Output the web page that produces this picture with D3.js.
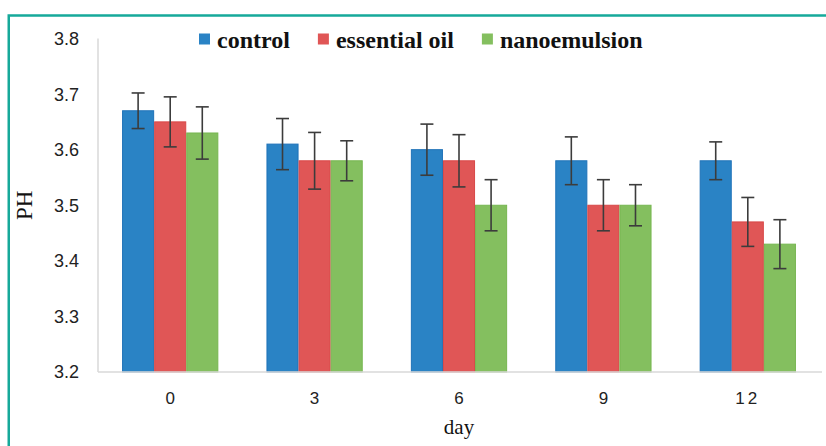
<!DOCTYPE html>
<html>
<head>
<meta charset="utf-8">
<script src="https://cdn.jsdelivr.net/npm/d3@7"></script>
<style>
  body { margin: 0; background: #fff; }
</style>
</head>
<body>
<script>
// chart values
let days = ['0', '3', '6', '9', '12'];
let series = ['control', 'essential oil', 'nanoemulsion'];
let control = [3.67, 3.61, 3.60, 3.58, 3.58];
let essentialOil = [3.65, 3.58, 3.58, 3.50, 3.47];
let nanoemulsion = [3.63, 3.58, 3.50, 3.50, 3.43];
let controlErr = [0.032, 0.046, 0.046, 0.043, 0.034];
let essentialOilErr = [0.045, 0.051, 0.047, 0.046, 0.044];
let nanoemulsionErr = [0.047, 0.036, 0.046, 0.037, 0.044];
let yTicks = [3.2, 3.3, 3.4, 3.5, 3.6, 3.7, 3.8];

let values = [control, essentialOil, nanoemulsion];
let errors = [controlErr, essentialOilErr, nanoemulsionErr];
let colors = ['#2a83c5', '#e05656', '#84bf5f'];
let strokes = ['#1f72b8', '#d84848', '#76b650'];

let serif = '"Liberation Serif", "Times New Roman", serif';
let sans = '"Liberation Sans", Arial, sans-serif';

let width = 826, height = 446;
let plotLeft = 98, plotRight = 820, plotTop = 38.5, plotBottom = 372;

let svg = d3.select('body').append('svg')
  .attr('width', width).attr('height', height);

// teal frame (only left and top edges are in view)
svg.append('rect')
  .attr('x', 8.75).attr('y', 15.5)
  .attr('width', 900).attr('height', 500)
  .attr('fill', 'none')
  .attr('stroke', '#16a99a')
  .attr('stroke-width', 2.5);

let x = d3.scaleBand().domain(days)
  .range([plotLeft, plotRight])
  .paddingInner(1 / 3).paddingOuter(1 / 6);

let xs = d3.scaleBand().domain(series)
  .range([0, x.bandwidth()]);

let y = d3.scaleLinear().domain([3.2, 3.8]).range([plotBottom, plotTop]);

// bars
let groups = svg.append('g').selectAll('g')
  .data(series)
  .join('g');

groups.selectAll('rect')
  .data((s, i) => days.map((d, j) => ({ s: s, i: i, d: d, v: values[i][j] })))
  .join('rect')
  .attr('x', d => x(d.d) + xs(d.s) + 0.5)
  .attr('y', d => y(d.v))
  .attr('width', xs.bandwidth() - 1)
  .attr('height', d => plotBottom - y(d.v))
  .attr('fill', d => colors[d.i])
  .attr('stroke', d => strokes[d.i])
  .attr('stroke-width', 1);

// axis lines
svg.append('line')
  .attr('x1', plotLeft).attr('x2', plotLeft)
  .attr('y1', plotTop).attr('y2', plotBottom)
  .attr('stroke', '#d9d9d9').attr('stroke-width', 1.5);
svg.append('line')
  .attr('x1', plotLeft).attr('x2', plotRight + 2)
  .attr('y1', plotBottom).attr('y2', plotBottom)
  .attr('stroke', '#d9d9d9').attr('stroke-width', 1.5);

// error bars
let cap = 6.5;
let eb = svg.append('g')
  .attr('stroke', '#3c3c3c')
  .attr('stroke-width', 1.6);
series.forEach((s, i) => {
  days.forEach((d, j) => {
    let cx = x(d) + xs(s) + xs.bandwidth() / 2;
    let y1 = y(values[i][j] + errors[i][j]);
    let y2 = y(values[i][j] - errors[i][j]);
    eb.append('line').attr('x1', cx).attr('x2', cx).attr('y1', y1).attr('y2', y2);
    eb.append('line').attr('x1', cx - cap).attr('x2', cx + cap).attr('y1', y1).attr('y2', y1);
    eb.append('line').attr('x1', cx - cap).attr('x2', cx + cap).attr('y1', y2).attr('y2', y2);
  });
});

// y tick labels
svg.append('g').selectAll('text')
  .data(yTicks)
  .join('text')
  .attr('x', 79)
  .attr('y', d => y(d))
  .attr('dy', '0.36em')
  .attr('text-anchor', 'end')
  .style('font-family', sans)
  .style('font-size', '18px')
  .attr('fill', '#222')
  .text(d => d.toFixed(1));

// x tick labels
svg.append('g').selectAll('text')
  .data(days)
  .join('text')
  .attr('x', d => x(d) + x.bandwidth() / 2)
  .attr('y', 404)
  .attr('text-anchor', 'middle')
  .style('font-family', sans)
  .style('font-size', '17px')
  .style('letter-spacing', d => d.length > 1 ? '3px' : '0px')
  .attr('fill', '#222')
  .text(d => d);

// axis titles
svg.append('text')
  .attr('x', (plotLeft + plotRight) / 2)
  .attr('y', 434)
  .attr('text-anchor', 'middle')
  .style('font-family', serif)
  .style('font-size', '21px')
  .attr('fill', '#111')
  .text('day');

svg.append('text')
  .attr('transform', 'translate(32,' + ((plotTop + plotBottom) / 2) + ') rotate(-90)')
  .attr('text-anchor', 'middle')
  .style('font-family', serif)
  .style('font-size', '23px')
  .attr('fill', '#111')
  .text('PH');

// legend
let lx = 199;
series.forEach((s, i) => {
  svg.append('rect')
    .attr('x', lx).attr('y', 33.5)
    .attr('width', 11).attr('height', 11)
    .attr('fill', colors[i]);
  let t = svg.append('text')
    .attr('x', lx + 18).attr('y', 47.5)
    .style('font-family', serif)
    .style('font-size', '24px')
    .style('font-weight', 'bold')
    .attr('fill', '#111')
    .text(s);
  lx += 18 + t.node().getComputedTextLength() + 28;
});
</script>
</body>
</html>
